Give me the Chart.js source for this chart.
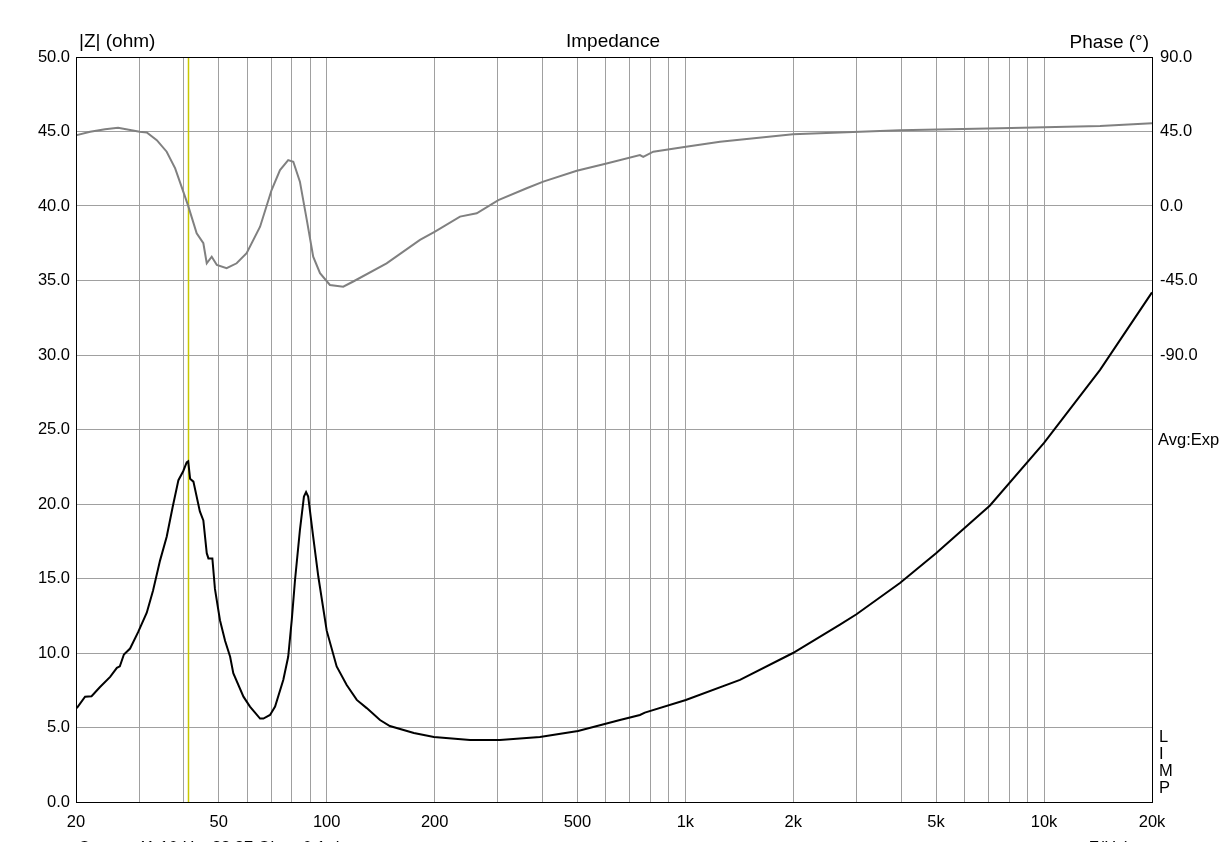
<!DOCTYPE html>
<html>
<head>
<meta charset="utf-8">
<script src="https://cdn.jsdelivr.net/npm/chart.js@4.4.1/dist/chart.umd.min.js"></script>
<style>
  html, body { margin: 0; padding: 0; background: #fff; }
  canvas { display: block; }
</style>
</head>
<body>
<canvas id="impChart" width="1228" height="842"></canvas>
<script>
// impedance magnitude |Z| (ohm) vs frequency (Hz)
const zFreq = [20.1, 21.2, 22.1, 23.3, 24.9, 26.0, 26.5, 27.2, 28.3, 29.8, 31.5, 32.8, 34.3, 35.8, 37.2, 38.6, 39.8, 40.7, 41.1, 41.6, 42.5, 44.3, 45.3, 46.3, 46.8, 48.0, 48.8, 50.4, 52.1, 53.8, 54.9, 58.6, 61.1, 65.2, 66.6, 69.5, 71.8, 75.7, 78.1, 79.9, 81.6, 84.2, 86.4, 87.6, 88.8, 91.7, 94.8, 100, 106.6, 113.7, 121.3, 129.3, 140.8, 150, 175, 199, 251, 304, 393, 502, 657, 747, 771, 1003, 1420, 1995, 2698, 3000, 3966, 5000, 7068, 10000, 14330, 20000];
const zOhm = [6.3, 7.07, 7.1, 7.7, 8.4, 9.0, 9.1, 9.9, 10.3, 11.4, 12.7, 14.2, 16.2, 17.8, 19.8, 21.6, 22.2, 22.8, 22.87, 21.7, 21.5, 19.5, 18.9, 16.7, 16.35, 16.35, 14.3, 12.2, 10.8, 9.75, 8.65, 7.07, 6.4, 5.6, 5.6, 5.84, 6.4, 8.2, 9.75, 12.2, 14.9, 18.25, 20.5, 20.8, 20.5, 17.8, 15.1, 11.5, 9.1, 7.85, 6.85, 6.3, 5.5, 5.1, 4.63, 4.36, 4.16, 4.16, 4.36, 4.77, 5.5, 5.84, 6.0, 6.85, 8.2, 10.0, 11.9, 12.6, 14.7, 16.7, 19.9, 24.1, 29.0, 34.2];

// phase (deg) vs frequency (Hz)
const phFreq = [20.1, 21.9, 24.1, 26.2, 30.1, 31.5, 33.6, 35.8, 37.8, 39.4, 41.1, 43.4, 45.3, 46.3, 47.8, 49.4, 52.6, 56.1, 59.8, 65.2, 70.2, 74.1, 78.1, 80.7, 84.2, 88.0, 91.7, 95.8, 102.1, 111.2, 118.6, 146.9, 182, 200.4, 235.3, 262, 301, 361, 401.6, 498, 603, 747, 763, 814, 1004, 1249, 1995, 3966, 7536, 14330, 20000];
const phDeg = [42.8, 44.8, 46.4, 47.2, 44.8, 44.4, 39.8, 32.8, 22.7, 11.6, 0.1, -16.5, -22.5, -34.6, -30.6, -35.6, -37.6, -34.6, -28.5, -12.5, 9.65, 21.7, 27.7, 26.7, 14.7, -8.4, -30.6, -40.6, -47.7, -48.7, -45.6, -34.6, -20.5, -15.5, -6.4, -4.4, 3.6, 10.7, 14.7, 21.3, 25.7, 30.8, 29.7, 32.8, 35.8, 38.8, 43.4, 45.8, 47, 48.3, 50];

// axes
const xGridFreqs = [20, 30, 40, 50, 60, 70, 80, 90, 100, 200, 300, 400, 500, 600, 700, 800, 900, 1000, 2000, 3000, 4000, 5000, 6000, 7000, 8000, 9000, 10000, 20000];
const xLabelFreqs = [20, 50, 100, 200, 500, 1000, 2000, 5000, 10000, 20000];
const xLabelText = ["20", "50", "100", "200", "500", "1k", "2k", "5k", "10k", "20k"];
const phaseTickShown = [90, 45, 0, -45, -90];

const cursorHz = 41.1;
const cursorText = "Cursor: 41.10 Hz, 22.87 Ohm, 0.1 deg";

const FONT = "Arial, 'Liberation Sans', sans-serif";

const framePlugin = {
  id: "frame",
  beforeDraw(chart) {
    const c = chart.ctx;
    c.save();
    c.fillStyle = "#fff";
    c.fillRect(0, 0, chart.width, chart.height);
    c.restore();
  },
  beforeDatasetsDraw(chart) {
    // cursor line
    const c = chart.ctx;
    const a = chart.chartArea;
    const x = Math.round(chart.scales.x.getPixelForValue(cursorHz)) + 0.5;
    c.save();
    c.strokeStyle = "#c8c800";
    c.lineWidth = 1.5;
    c.beginPath();
    c.moveTo(x, a.top);
    c.lineTo(x, a.bottom);
    c.stroke();
    c.restore();
  },
  afterDraw(chart) {
    const c = chart.ctx;
    const a = chart.chartArea;
    c.save();
    c.strokeStyle = "#000";
    c.lineWidth = 1;
    c.strokeRect(Math.round(a.left) + 0.5, Math.round(a.top) + 0.5, Math.round(a.right - a.left), Math.round(a.bottom - a.top));

    c.fillStyle = "#000";
    c.font = "19px " + FONT;
    c.textBaseline = "middle";
    c.textAlign = "left";
    c.fillText("|Z| (ohm)", 79, 42);
    c.textAlign = "center";
    c.fillText("Impedance", 613, 42);
    c.textAlign = "right";
    c.fillText("Phase (\u00b0)", 1149, 43);

    c.font = "16.5px " + FONT;
    c.textAlign = "left";
    c.fillText("Avg:Exp", 1158, 440);
    ["L", "I", "M", "P"].forEach((ch, i) => c.fillText(ch, 1159, 737 + i * 17));

    c.fillText(cursorText, 78, 848);
    c.textAlign = "right";
    c.fillText("F(Hz)", 1130, 848);
    c.restore();
  }
};

const ctx = document.getElementById("impChart");
new Chart(ctx, {
  type: "line",
  data: {
    datasets: [
      {
        label: "|Z|",
        data: zFreq.map((f, i) => ({ x: f, y: zOhm[i] })),
        yAxisID: "y",
        borderColor: "#000",
        borderWidth: 2,
        pointRadius: 0,
        tension: 0,
        fill: false
      },
      {
        label: "Phase",
        data: phFreq.map((f, i) => ({ x: f, y: phDeg[i] })),
        yAxisID: "y2",
        borderColor: "#808080",
        borderWidth: 2,
        pointRadius: 0,
        tension: 0,
        fill: false
      }
    ]
  },
  options: {
    responsive: false,
    animation: false,
    layout: { padding: { left: 0, right: 0, top: 57, bottom: 0 } },
    plugins: { legend: { display: false }, tooltip: { enabled: false } },
    scales: {
      x: {
        type: "logarithmic",
        min: 20,
        max: 20000,
        afterBuildTicks: (s) => { s.ticks = xGridFreqs.map((v) => ({ value: v })); },
        afterFit: (s) => { s.height = 40; },
        grid: { color: "#a0a0a0", lineWidth: 1, drawTicks: false },
        border: { display: false },
        ticks: {
          autoSkip: false,
          maxRotation: 0,
          padding: 11,
          color: "#000",
          font: { family: FONT, size: 16.5 },
          callback: (v) => {
            const i = xLabelFreqs.indexOf(Number(v));
            return i >= 0 ? xLabelText[i] : "";
          }
        }
      },
      y: {
        position: "left",
        min: 0,
        max: 50,
        afterFit: (s) => { s.width = 76; },
        grid: { color: "#a0a0a0", lineWidth: 1, drawTicks: false },
        border: { display: false },
        ticks: {
          stepSize: 5,
          padding: 6,
          color: "#000",
          font: { family: FONT, size: 16.5 },
          callback: (v) => Number(v).toFixed(1)
        }
      },
      y2: {
        position: "right",
        min: -360,
        max: 90,
        afterFit: (s) => { s.width = 76; },
        grid: { display: false, drawTicks: false },
        border: { display: false },
        ticks: {
          stepSize: 45,
          padding: 8,
          color: "#000",
          font: { family: FONT, size: 16.5 },
          callback: (v) => phaseTickShown.includes(v) ? Number(v).toFixed(1) : ""
        }
      }
    }
  },
  plugins: [framePlugin]
});
</script>
</body>
</html>
